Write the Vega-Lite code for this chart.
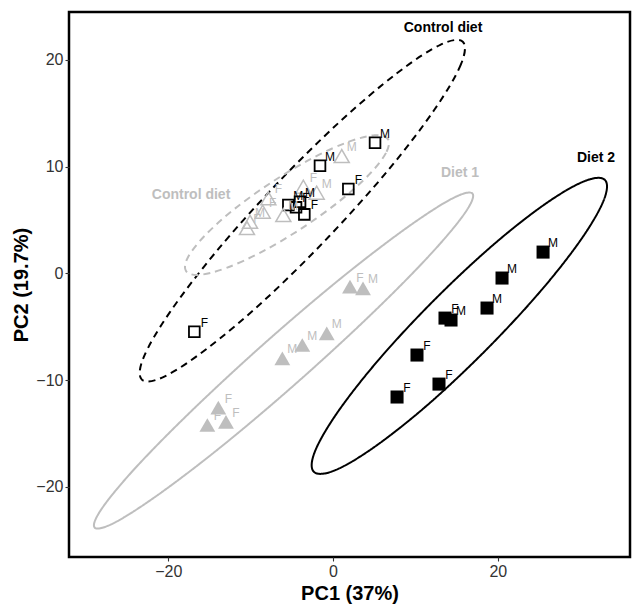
{
  "$schema": "https://vega.github.io/schema/vega-lite/v6.json",
  "width": 561,
  "height": 545,
  "autosize": {"type": "none"},
  "padding": {"left": 69, "top": 12, "right": 5, "bottom": 50},
  "background": "white",
  "config": {
    "font": "Liberation Sans",
    "view": {"stroke": "#000000", "strokeWidth": 2.5},
    "axis": {
      "grid": false,
      "domain": false,
      "tickColor": "#333333",
      "tickSize": 4,
      "tickWidth": 1.1,
      "labelFontSize": 16,
      "labelColor": "#333333",
      "labelPadding": 2,
      "titleFontSize": 20,
      "titleFontWeight": "bold",
      "titleColor": "#000000"
    }
  },
  "datasets": {
    "points": [
      {"set": "A", "diet": "Diet 2", "sex": "M", "pc1": 25.49, "pc2": 1.99},
      {"set": "A", "diet": "Diet 2", "sex": "M", "pc1": 20.51, "pc2": -0.44},
      {"set": "A", "diet": "Diet 2", "sex": "M", "pc1": 18.69, "pc2": -3.25},
      {"set": "A", "diet": "Diet 2", "sex": "F", "pc1": 13.59, "pc2": -4.19},
      {"set": "A", "diet": "Diet 2", "sex": "M", "pc1": 14.32, "pc2": -4.37},
      {"set": "A", "diet": "Diet 2", "sex": "F", "pc1": 10.19, "pc2": -7.65},
      {"set": "A", "diet": "Diet 2", "sex": "F", "pc1": 12.86, "pc2": -10.37},
      {"set": "A", "diet": "Diet 2", "sex": "F", "pc1": 7.77, "pc2": -11.58},
      {"set": "A", "diet": "Control diet", "sex": "M", "pc1": 5.10, "pc2": 12.23},
      {"set": "A", "diet": "Control diet", "sex": "M", "pc1": -1.58, "pc2": 10.07},
      {"set": "A", "diet": "Control diet", "sex": "F", "pc1": 1.86, "pc2": 7.89},
      {"set": "A", "diet": "Control diet", "sex": "F", "pc1": -16.83, "pc2": -5.47},
      {"set": "A", "diet": "Control diet", "sex": "M", "pc1": -5.42, "pc2": 6.40},
      {"set": "A", "diet": "Control diet", "sex": "M", "pc1": -4.00, "pc2": 6.70},
      {"set": "A", "diet": "Control diet", "sex": "F", "pc1": -4.49, "pc2": 6.18},
      {"set": "A", "diet": "Control diet", "sex": "F", "pc1": -3.48, "pc2": 5.52},
      {"set": "B", "diet": "Diet 1", "sex": "F", "pc1": 2.06, "pc2": -1.25},
      {"set": "B", "diet": "Diet 1", "sex": "M", "pc1": 3.64, "pc2": -1.40},
      {"set": "B", "diet": "Diet 1", "sex": "M", "pc1": -0.76, "pc2": -5.62},
      {"set": "B", "diet": "Diet 1", "sex": "M", "pc1": -3.73, "pc2": -6.71},
      {"set": "B", "diet": "Diet 1", "sex": "M", "pc1": -6.15, "pc2": -7.96},
      {"set": "B", "diet": "Diet 1", "sex": "F", "pc1": -13.92, "pc2": -12.58},
      {"set": "B", "diet": "Diet 1", "sex": "F", "pc1": -12.99, "pc2": -13.90},
      {"set": "B", "diet": "Diet 1", "sex": "F", "pc1": -15.25, "pc2": -14.20},
      {"set": "B", "diet": "Control diet", "sex": "M", "pc1": 1.06, "pc2": 10.98},
      {"set": "B", "diet": "Control diet", "sex": "F", "pc1": -3.60, "pc2": 8.11},
      {"set": "B", "diet": "Control diet", "sex": "M", "pc1": -1.98, "pc2": 7.55},
      {"set": "B", "diet": "Control diet", "sex": "F", "pc1": -7.85, "pc2": 7.02},
      {"set": "B", "diet": "Control diet", "sex": "F", "pc1": -8.53, "pc2": 5.77},
      {"set": "B", "diet": "Control diet", "sex": "M", "pc1": -6.03, "pc2": 5.46},
      {"set": "B", "diet": "Control diet", "sex": "M", "pc1": -10.07, "pc2": 4.83},
      {"set": "B", "diet": "Control diet", "sex": "F", "pc1": -10.44, "pc2": 4.24}
    ],
    "ellipses": [
      {"set": "A", "diet": "Control diet", "i": 0, "pc1": 15.75, "pc2": 21.68},
      {"set": "A", "diet": "Control diet", "i": 1, "pc1": 15.52, "pc2": 19.56},
      {"set": "A", "diet": "Control diet", "i": 2, "pc1": 12.34, "pc2": 15.36},
      {"set": "A", "diet": "Control diet", "i": 3, "pc1": 6.75, "pc2": 9.71},
      {"set": "A", "diet": "Control diet", "i": 4, "pc1": -0.47, "pc2": 3.47},
      {"set": "A", "diet": "Control diet", "i": 5, "pc1": -8.18, "pc2": -2.41},
      {"set": "A", "diet": "Control diet", "i": 6, "pc1": -15.21, "pc2": -7.00},
      {"set": "A", "diet": "Control diet", "i": 7, "pc1": -20.47, "pc2": -9.67},
      {"set": "A", "diet": "Control diet", "i": 8, "pc1": -23.20, "pc2": -9.95},
      {"set": "A", "diet": "Control diet", "i": 9, "pc1": -22.97, "pc2": -7.84},
      {"set": "A", "diet": "Control diet", "i": 10, "pc1": -19.79, "pc2": -3.63},
      {"set": "A", "diet": "Control diet", "i": 11, "pc1": -14.20, "pc2": 2.01},
      {"set": "A", "diet": "Control diet", "i": 12, "pc1": -6.98, "pc2": 8.25},
      {"set": "A", "diet": "Control diet", "i": 13, "pc1": 0.73, "pc2": 14.13},
      {"set": "A", "diet": "Control diet", "i": 14, "pc1": 7.75, "pc2": 18.73},
      {"set": "A", "diet": "Control diet", "i": 15, "pc1": 13.02, "pc2": 21.40},
      {"set": "B", "diet": "Control diet", "i": 0, "pc1": 6.67, "pc2": 12.57},
      {"set": "B", "diet": "Control diet", "i": 1, "pc1": 6.43, "pc2": 11.28},
      {"set": "B", "diet": "Control diet", "i": 2, "pc1": 4.37, "pc2": 9.24},
      {"set": "B", "diet": "Control diet", "i": 3, "pc1": 0.80, "pc2": 6.77},
      {"set": "B", "diet": "Control diet", "i": 4, "pc1": -3.76, "pc2": 4.24},
      {"set": "B", "diet": "Control diet", "i": 5, "pc1": -8.59, "pc2": 2.03},
      {"set": "B", "diet": "Control diet", "i": 6, "pc1": -12.96, "pc2": 0.50},
      {"set": "B", "diet": "Control diet", "i": 7, "pc1": -16.21, "pc2": -0.14},
      {"set": "B", "diet": "Control diet", "i": 8, "pc1": -17.84, "pc2": 0.22},
      {"set": "B", "diet": "Control diet", "i": 9, "pc1": -17.60, "pc2": 1.51},
      {"set": "B", "diet": "Control diet", "i": 10, "pc1": -15.53, "pc2": 3.55},
      {"set": "B", "diet": "Control diet", "i": 11, "pc1": -11.97, "pc2": 6.02},
      {"set": "B", "diet": "Control diet", "i": 12, "pc1": -7.40, "pc2": 8.55},
      {"set": "B", "diet": "Control diet", "i": 13, "pc1": -2.57, "pc2": 10.76},
      {"set": "B", "diet": "Control diet", "i": 14, "pc1": 1.80, "pc2": 12.29},
      {"set": "B", "diet": "Control diet", "i": 15, "pc1": 5.05, "pc2": 12.93},
      {"set": "B", "diet": "Diet 1", "i": 0, "pc1": 16.92, "pc2": 7.47},
      {"set": "B", "diet": "Diet 1", "i": 1, "pc1": 15.96, "pc2": 5.60},
      {"set": "B", "diet": "Diet 1", "i": 2, "pc1": 11.65, "pc2": 1.63},
      {"set": "B", "diet": "Diet 1", "i": 3, "pc1": 4.66, "pc2": -3.82},
      {"set": "B", "diet": "Diet 1", "i": 4, "pc1": -3.96, "pc2": -9.95},
      {"set": "B", "diet": "Diet 1", "i": 5, "pc1": -12.89, "pc2": -15.81},
      {"set": "B", "diet": "Diet 1", "i": 6, "pc1": -20.78, "pc2": -20.49},
      {"set": "B", "diet": "Diet 1", "i": 7, "pc1": -26.40, "pc2": -23.30},
      {"set": "B", "diet": "Diet 1", "i": 8, "pc1": -28.93, "pc2": -23.80},
      {"set": "B", "diet": "Diet 1", "i": 9, "pc1": -27.97, "pc2": -21.93},
      {"set": "B", "diet": "Diet 1", "i": 10, "pc1": -23.67, "pc2": -17.96},
      {"set": "B", "diet": "Diet 1", "i": 11, "pc1": -16.67, "pc2": -12.51},
      {"set": "B", "diet": "Diet 1", "i": 12, "pc1": -8.06, "pc2": -6.38},
      {"set": "B", "diet": "Diet 1", "i": 13, "pc1": 0.87, "pc2": -0.52},
      {"set": "B", "diet": "Diet 1", "i": 14, "pc1": 8.76, "pc2": 4.16},
      {"set": "B", "diet": "Diet 1", "i": 15, "pc1": 14.38, "pc2": 6.97},
      {"set": "A", "diet": "Diet 2", "i": 0, "pc1": 32.99, "pc2": 8.75},
      {"set": "A", "diet": "Diet 2", "i": 1, "pc1": 32.83, "pc2": 6.80},
      {"set": "A", "diet": "Diet 2", "i": 2, "pc1": 30.00, "pc2": 3.06},
      {"set": "A", "diet": "Diet 2", "i": 3, "pc1": 24.95, "pc2": -1.88},
      {"set": "A", "diet": "Diet 2", "i": 4, "pc1": 18.42, "pc2": -7.29},
      {"set": "A", "diet": "Diet 2", "i": 5, "pc1": 11.43, "pc2": -12.35},
      {"set": "A", "diet": "Diet 2", "i": 6, "pc1": 5.02, "pc2": -16.26},
      {"set": "A", "diet": "Diet 2", "i": 7, "pc1": 0.21, "pc2": -18.45},
      {"set": "A", "diet": "Diet 2", "i": 8, "pc1": -2.33, "pc2": -18.58},
      {"set": "A", "diet": "Diet 2", "i": 9, "pc1": -2.17, "pc2": -16.63},
      {"set": "A", "diet": "Diet 2", "i": 10, "pc1": 0.66, "pc2": -12.89},
      {"set": "A", "diet": "Diet 2", "i": 11, "pc1": 5.70, "pc2": -7.95},
      {"set": "A", "diet": "Diet 2", "i": 12, "pc1": 12.23, "pc2": -2.54},
      {"set": "A", "diet": "Diet 2", "i": 13, "pc1": 19.22, "pc2": 2.52},
      {"set": "A", "diet": "Diet 2", "i": 14, "pc1": 25.63, "pc2": 6.43},
      {"set": "A", "diet": "Diet 2", "i": 15, "pc1": 30.45, "pc2": 8.61}
    ],
    "labels": [
      {"set": "A", "text": "Control diet", "pc1": 13.35, "pc2": 22.97},
      {"set": "B", "text": "Control diet", "pc1": -17.23, "pc2": 7.33},
      {"set": "B", "text": "Diet 1", "pc1": 15.41, "pc2": 9.39},
      {"set": "A", "text": "Diet 2", "pc1": 31.92, "pc2": 10.80}
    ]
  },
  "encoding": {
    "x": {"field": "pc1", "type": "quantitative", "title": "PC1 (37%)",
          "scale": {"domain": [-32.04, 36.04], "nice": false, "zero": false},
          "axis": {"values": [-20, 0, 20]}},
    "y": {"field": "pc2", "type": "quantitative", "title": "PC2 (19.7%)",
          "scale": {"domain": [-26.56, 24.47], "nice": false, "zero": false},
          "axis": {"values": [-20, -10, 0, 10, 20]}}
  },
  "layer": [
    {
      "mark": {"type": "rule", "color": "#aaaaaa", "strokeWidth": 1.6, "strokeDash": [1.5, 5]},
      "encoding": {"x": {"datum": 0, "type": "quantitative"}, "y": null}
    },
    {
      "mark": {"type": "rule", "color": "#aaaaaa", "strokeWidth": 1.6, "strokeDash": [1.5, 5]},
      "encoding": {"y": {"datum": 0, "type": "quantitative"}, "x": null}
    },
    {
      "data": {"name": "ellipses"},
      "mark": {"type": "line", "interpolate": "cardinal-closed", "strokeWidth": 2, "clip": true},
      "encoding": {
        "order": {"field": "i", "type": "quantitative"},
        "color": {"field": "set", "type": "nominal", "scale": {"domain": ["A", "B"], "range": ["#000000", "#bebebe"]}, "legend": null},
        "strokeDash": {"field": "diet", "type": "nominal", "scale": {"domain": ["Control diet", "Diet 1", "Diet 2"], "range": [[7, 5], [1, 0], [1, 0]]}, "legend": null}
      }
    },
    {
      "data": {"name": "points"},
      "transform": [{"filter": "datum.set === 'A' && datum.diet === 'Control diet'"}],
      "mark": {"type": "point", "shape": "square", "filled": false, "size": 115, "strokeWidth": 1.8, "color": "#000000", "opacity": 1}
    },
    {
      "data": {"name": "points"},
      "transform": [{"filter": "datum.set === 'B' && datum.diet === 'Control diet'"}],
      "mark": {"type": "point", "shape": "triangle-up", "filled": false, "size": 225, "strokeWidth": 1.5, "color": "#bebebe", "opacity": 1}
    },
    {
      "data": {"name": "points"},
      "transform": [{"filter": "datum.set === 'A' && datum.diet !== 'Control diet'"}],
      "mark": {"type": "point", "shape": "square", "filled": true, "size": 170, "color": "#000000", "opacity": 1}
    },
    {
      "data": {"name": "points"},
      "transform": [{"filter": "datum.set === 'B' && datum.diet !== 'Control diet'"}],
      "mark": {"type": "point", "shape": "triangle-up", "filled": true, "size": 250, "color": "#bebebe", "opacity": 1}
    },
    {
      "data": {"name": "points"},
      "mark": {"type": "text", "fontSize": 12, "dx": 10, "dy": -9, "align": "center", "baseline": "middle"},
      "encoding": {
        "text": {"field": "sex"},
        "color": {"field": "set", "type": "nominal", "scale": {"domain": ["A", "B"], "range": ["#000000", "#bebebe"]}, "legend": null}
      }
    },
    {
      "data": {"name": "labels"},
      "mark": {"type": "text", "fontSize": 14, "fontWeight": "bold", "align": "center", "baseline": "middle"},
      "encoding": {
        "text": {"field": "text"},
        "color": {"field": "set", "type": "nominal", "scale": {"domain": ["A", "B"], "range": ["#000000", "#bebebe"]}, "legend": null}
      }
    }
  ]
}
